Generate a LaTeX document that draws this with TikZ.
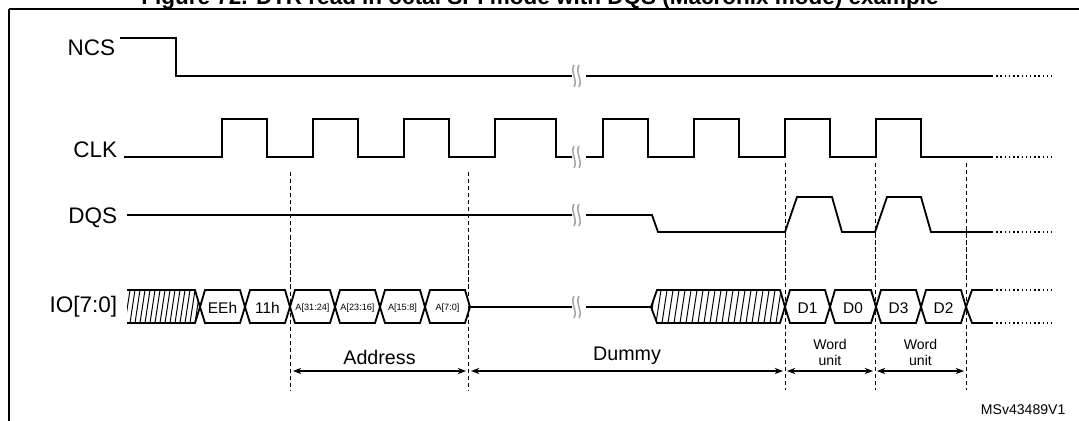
\documentclass[tikz,border=0pt]{standalone}
\usepackage{fontspec}
\setmainfont{Liberation Sans}
\usetikzlibrary{arrows.meta}
\begin{document}
\begin{tikzpicture}[x=0.025cm,y=-0.025cm]
  \tikzset{wave/.style = {line width=1.3pt,line join=miter}}
  \tikzset{dots/.style = {line width=1pt,dotted}}
  \tikzset{sig/.style = {anchor=east,font=\fontsize{16}{18}\selectfont}}
  \tikzset{guide/.style = {dashed,line width=0.6pt,dash pattern=on 3pt off 2pt}}
  \tikzset{span/.style = {{Stealth[length=6pt]}-{Stealth[length=6pt]},line width=0.8pt}}
  \tikzset{brk/.style = {gray!70,line width=1.1pt}}
  \useasboundingbox (0,0) rectangle (1079,421);
  \node[font=\bfseries\fontsize{16}{18}\selectfont,anchor=base] (title) at (540,4) {Figure 72. DTR read in octal SPI mode with DQS (Macronix mode) example};
  \draw[line width=1.2pt] (9,9) -- (1090,9) (9,9) -- (9,430);

  % signal names
  \node[sig] (ncs) at (120,48) {NCS};
  \node[sig] (clk) at (122,150) {CLK};
  \node[sig] (dqs) at (122,218) {DQS};
  \node[sig] (io) at (122,307) {IO[7:0]};

  % NCS
  \draw[wave] (120,38) -- (176,38) -- (176,76) -- (572,76) (586,76) -- (992,76);
  \draw[dots] (992,76) -- (1055,76);
  % CLK
  \draw[wave] (124,157) -- (222,157)
    \foreach \t in {222,313,404} {-- (\t,119) -- (\t+45,119) -- (\t+45,157) -- (\t+91,157)}
    -- (495,119) -- (556,119) -- (556,157) -- (572,157);
  \draw[wave] (586,157) -- (603,157)
    \foreach \t in {603,694,785,876} {-- (\t,119) -- (\t+45,119) -- (\t+45,157) -- (\t+91,157)}
    -- (992,157);
  \draw[dots] (992,157) -- (1055,157);
  % DQS
  \draw[wave] (127,215) -- (572,215) (586,215) -- (652,215) -- (658,232) -- (785,232)
    -- (797,197) -- (832,197) -- (842,232) -- (875,232)
    -- (887,197) -- (921,197) -- (931,232) -- (992,232);
  \draw[dots] (992,232) -- (1055,232);

  % IO bus
  \begin{scope}
    \clip (127,290) -- (195,290) -- (200,307) -- (195,323) -- (127,323) -- cycle;
    \foreach \h in {120,125,...,200} \draw[line width=0.7pt] (\h,323) -- (\h+5,290);
  \end{scope}
  \draw[wave] (127,290) -- (195,290) -- (200,307) -- (195,323) -- (127,323);
  \foreach \a/\b/\txt/\fs in {200/245/EEh/11,245/290/11h/11,290/335/A[31:24]/6.5,335/380/A[23:16]/6.5,380/425/A[15:8]/6.5,425/470/A[7:0]/6.5,785/830/D1/11,830/876/D0/11,876/921/D3/11,921/966/D2/11}
  {
    \draw[wave] (\a,307) -- (\a+5,290) -- (\b-5,290) -- (\b,307) -- (\b-5,323) -- (\a+5,323) -- cycle;
    \node[font=\fontsize{\fs}{\fs}\selectfont,inner sep=0pt] (c\a) at ({(\a+\b)/2},308) {\txt};
  }
  \draw[wave] (470,307) -- (572,307) (586,307) -- (651,307);
  \begin{scope}
    \clip (651,307) -- (657,290) -- (780,290) -- (785,307) -- (780,323) -- (657,323) -- cycle;
    \foreach \h in {650,656,...,790} \draw[line width=0.7pt] (\h,323) -- (\h+5,290);
  \end{scope}
  \draw[wave] (651,307) -- (657,290) -- (780,290) -- (785,307) -- (780,323) -- (657,323) -- cycle;
  \draw[wave] (966,307) -- (972,290) -- (992,290) (966,307) -- (972,323) -- (992,323);
  \draw[dots] (992,290) -- (1055,290) (992,323) -- (1055,323);

  % break marks
  \foreach \y in {76,157,215,307}
    \foreach \dx in {574,579}
      \draw[brk] (\dx,\y-11) .. controls (\dx-4,\y-4) and (\dx+4,\y+4) .. (\dx,\y+11);

  % guides
  \foreach \x/\y in {290/172,468/172,785/163,875/163,966/163}
    \draw[guide] (\x,\y) -- (\x,390);

  % spans
  \coordinate (a1) at (293,371); \coordinate (a2) at (466,371);
  \coordinate (d1) at (471,371); \coordinate (d2) at (783,371);
  \coordinate (w1) at (787,371); \coordinate (w2) at (873,371);
  \coordinate (v1) at (877,371); \coordinate (v2) at (964,371);
  \draw[span] (a1) -- node[above=1pt,font=\fontsize{14}{16}\selectfont] (addr) {Address} (a2);
  \draw[span] (d1) -- node[above=1pt,font=\fontsize{14}{16}\selectfont] (dummy) {Dummy} (d2);
  \draw[span] (w1) -- node[above=0pt,align=center,font=\fontsize{10}{11.5}\selectfont] (wu1) {Word\\unit} (w2);
  \draw[span] (v1) -- node[above=0pt,align=center,font=\fontsize{10}{11.5}\selectfont] (wu2) {Word\\unit} (v2);

  \node[anchor=west,font=\fontsize{10}{12}\selectfont] (ref) at (976,410) {MSv43489V1};
\end{tikzpicture}
\end{document}
